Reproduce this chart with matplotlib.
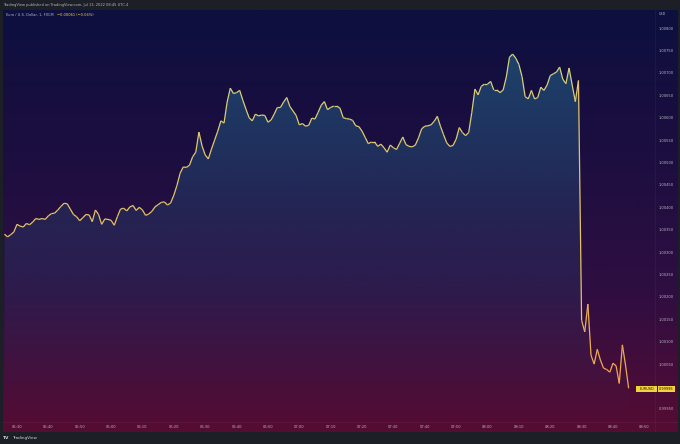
import numpy as np
import matplotlib
matplotlib.use('Agg')
import matplotlib.pyplot as plt
from matplotlib.collections import LineCollection
from matplotlib.colors import LinearSegmentedColormap
from matplotlib.patches import Polygon, Rectangle

# one-minute closes, EURUSD, 05:26 .. 08:45 (minutes counted from 05:30)
minutes = np.arange(-4, 196)
prices = [
    1.00340, 1.00334, 1.00339, 1.00345, 1.00362, 1.00358, 1.00356, 1.00364, 1.00361, 1.00367,
    1.00375, 1.00373, 1.00375, 1.00373, 1.00381, 1.00386, 1.00387, 1.00394, 1.00402, 1.00409,
    1.00408, 1.00396, 1.00384, 1.00379, 1.00370, 1.00377, 1.00384, 1.00383, 1.00368, 1.00394,
    1.00384, 1.00362, 1.00374, 1.00373, 1.00371, 1.00360, 1.00379, 1.00396, 1.00398, 1.00392,
    1.00401, 1.00404, 1.00393, 1.00400, 1.00394, 1.00382, 1.00385, 1.00391, 1.00401, 1.00406,
    1.00411, 1.00412, 1.00405, 1.00410, 1.00427, 1.00449, 1.00476, 1.00490, 1.00489, 1.00494,
    1.00513, 1.00523, 1.00568, 1.00537, 1.00517, 1.00508, 1.00530, 1.00550, 1.00570, 1.00593,
    1.00588, 1.00635, 1.00666, 1.00654, 1.00656, 1.00661, 1.00639, 1.00619, 1.00600, 1.00593,
    1.00608, 1.00604, 1.00606, 1.00605, 1.00590, 1.00595, 1.00608, 1.00623, 1.00623, 1.00635,
    1.00645, 1.00625, 1.00615, 1.00605, 1.00584, 1.00587, 1.00581, 1.00583, 1.00599, 1.00597,
    1.00612, 1.00628, 1.00636, 1.00618, 1.00623, 1.00626, 1.00626, 1.00621, 1.00600, 1.00598,
    1.00597, 1.00594, 1.00582, 1.00580, 1.00570, 1.00556, 1.00542, 1.00546, 1.00546, 1.00536,
    1.00541, 1.00533, 1.00523, 1.00539, 1.00533, 1.00529, 1.00543, 1.00557, 1.00540, 1.00536,
    1.00535, 1.00539, 1.00555, 1.00575, 1.00581, 1.00582, 1.00584, 1.00592, 1.00603, 1.00581,
    1.00562, 1.00544, 1.00536, 1.00538, 1.00552, 1.00578, 1.00567, 1.00560, 1.00567, 1.00612,
    1.00664, 1.00651, 1.00670, 1.00675, 1.00675, 1.00681, 1.00662, 1.00662, 1.00656, 1.00662,
    1.00691, 1.00735, 1.00742, 1.00733, 1.00719, 1.00692, 1.00647, 1.00642, 1.00661, 1.00642,
    1.00645, 1.00668, 1.00661, 1.00673, 1.00694, 1.00698, 1.00702, 1.00713, 1.00686, 1.00676,
    1.00711, 1.00673, 1.00636, 1.00683, 1.00148, 1.00122, 1.00184, 1.00070, 1.00050, 1.00083,
    1.00059, 1.00041, 1.00038, 1.00032, 1.00052, 1.00046, 1.00007, 1.00093, 1.00048, 0.99996,
]
# 1.00000 sits behind the last-price tag, so it isn't labelled
price_ticks = [1.00800, 1.00750, 1.00700, 1.00650, 1.00600, 1.00550, 1.00500, 1.00450,
               1.00400, 1.00350, 1.00300, 1.00250, 1.00200, 1.00150, 1.00100, 1.00050,
               0.99950]
time_ticks = list(range(0, 201, 10))
time_labels = ['05:30', '05:40', '05:50', '06:00', '06:10', '06:20', '06:30', '06:40',
               '06:50', '07:00', '07:10', '07:20', '07:30', '07:40', '07:50', '08:00',
               '08:10', '08:20', '08:30', '08:40', '08:50']
last_price = '0.99996'

W, H = 680, 444
TXT = '#b2b5be'


def frac(x0, y0, x1, y1):
    # pixel box (top-left origin) -> figure fraction rect
    return [x0 / W, 1 - y1 / H, (x1 - x0) / W, (y1 - y0) / H]


fig = plt.figure(figsize=(6.8, 4.44), dpi=100, facecolor='#1d1f27')

# background gradient, navy at top to maroon at bottom
bg = fig.add_axes(frac(3, 10, 678, 432))
bg_cmap = LinearSegmentedColormap.from_list('bg', ['#0d103f', '#1c0e40', '#2f0e42', '#560c33'])
bg.imshow(np.linspace(0, 1, 256).reshape(-1, 1), aspect='auto', cmap=bg_cmap,
          extent=[0, 1, 0, 1], interpolation='bilinear')
bg.axis('off')

ax = fig.add_axes(frac(3, 10, 655, 422))
xmin, xmax = -4.46, 203.4
ymin, ymax = 0.999208, 1.008404
ax.patch.set_alpha(0)

# area fill with vertical gradient, clipped to the region under the line
fill_cmap = LinearSegmentedColormap.from_list(
    'fill', [(0.16, 0.44, 0.58, 0.0), (0.16, 0.44, 0.58, 0.22), (0.16, 0.44, 0.58, 0.62)])
im = ax.imshow(np.linspace(0, 1, 256).reshape(-1, 1), cmap=fill_cmap, aspect='auto',
               origin='lower', extent=[xmin, xmax, ymin, ymax], zorder=1,
               interpolation='bilinear')
verts = np.column_stack([np.r_[minutes, minutes[-1], minutes[0]],
                         np.r_[prices, ymin, ymin]])
poly = Polygon(verts, closed=True, facecolor='none', edgecolor='none', transform=ax.transData)
ax.add_patch(poly)
im.set_clip_path(poly)

# line, pale yellow on top going orange lower down
pts = np.column_stack([minutes, prices])
segs = np.stack([pts[:-1], pts[1:]], axis=1)
line_cmap = LinearSegmentedColormap.from_list('ln', ['#f2a24a', '#e6c062', '#d8cf7c'])
lc = LineCollection(segs, cmap=line_cmap, linewidths=0.9, zorder=3)
lc.set_array((np.array(prices[:-1]) + np.array(prices[1:])) / 2)
lc.set_clim(0.9998, 1.0070)
ax.add_collection(lc)

ax.set_xlim(xmin, xmax)
ax.set_ylim(ymin, ymax)

ax.yaxis.tick_right()
ax.set_yticks(price_ticks)
ax.set_yticklabels([f'{t:.5f}' for t in price_ticks])
ax.set_xticks(time_ticks)
ax.set_xticklabels(time_labels)
ax.tick_params(axis='y', length=0, pad=2.5, labelsize=2.6, labelcolor=TXT)
ax.tick_params(axis='x', length=0, pad=2.0, labelsize=2.6, labelcolor=TXT)
for s in ax.spines.values():
    s.set_visible(False)

# axis separators
fig.add_artist(plt.Line2D([655 / W, 655 / W], [1 - 432 / H, 1 - 10 / H],
                          color='white', alpha=0.06, lw=0.5))
fig.add_artist(plt.Line2D([3 / W, 678 / W], [1 - 422 / H, 1 - 422 / H],
                          color='white', alpha=0.06, lw=0.5))

# header texts
fig.text(3 / W, 1 - 5 / H, 'TradingView published on TradingView.com, Jul 13, 2022 08:45 UTC-4',
         color=TXT, fontsize=2.6, va='center', ha='left')
fig.text(6 / W, 1 - 14.5 / H, 'Euro / U.S. Dollar, 1, FXCM', color=TXT, fontsize=2.6,
         va='center', ha='left')
fig.text(57 / W, 1 - 14.5 / H, '\u22120.00061 (\u22120.06%)', color='#f0d24a', fontsize=2.6,
         va='center', ha='left')
fig.text(659 / W, 1 - 14 / H, 'USD', color=TXT, fontsize=2.4, va='center', ha='left')

# last price tag
y_tag = 389
for x0, x1, txt in [(636, 657, 'EURUSD'), (658, 675, last_price)]:
    fig.add_artist(Rectangle((x0 / W, 1 - (y_tag + 3.3) / H), (x1 - x0) / W, 6.6 / H,
                             facecolor='#f3d33d', edgecolor='none', transform=fig.transFigure))
    fig.text((x0 + x1) / 2 / W, 1 - y_tag / H, txt, color='#1a1a1a', fontsize=2.5,
             ha='center', va='center')

# footer logo
fig.text(3 / W, 1 - 438 / H, 'TV', color='#d1d4dc', fontsize=3.2, fontweight='bold',
         va='center', ha='left')
fig.text(12 / W, 1 - 438 / H, 'TradingView', color='#d1d4dc', fontsize=3.0,
         va='center', ha='left')

fig.savefig('out.png', dpi=100, facecolor=fig.get_facecolor())
